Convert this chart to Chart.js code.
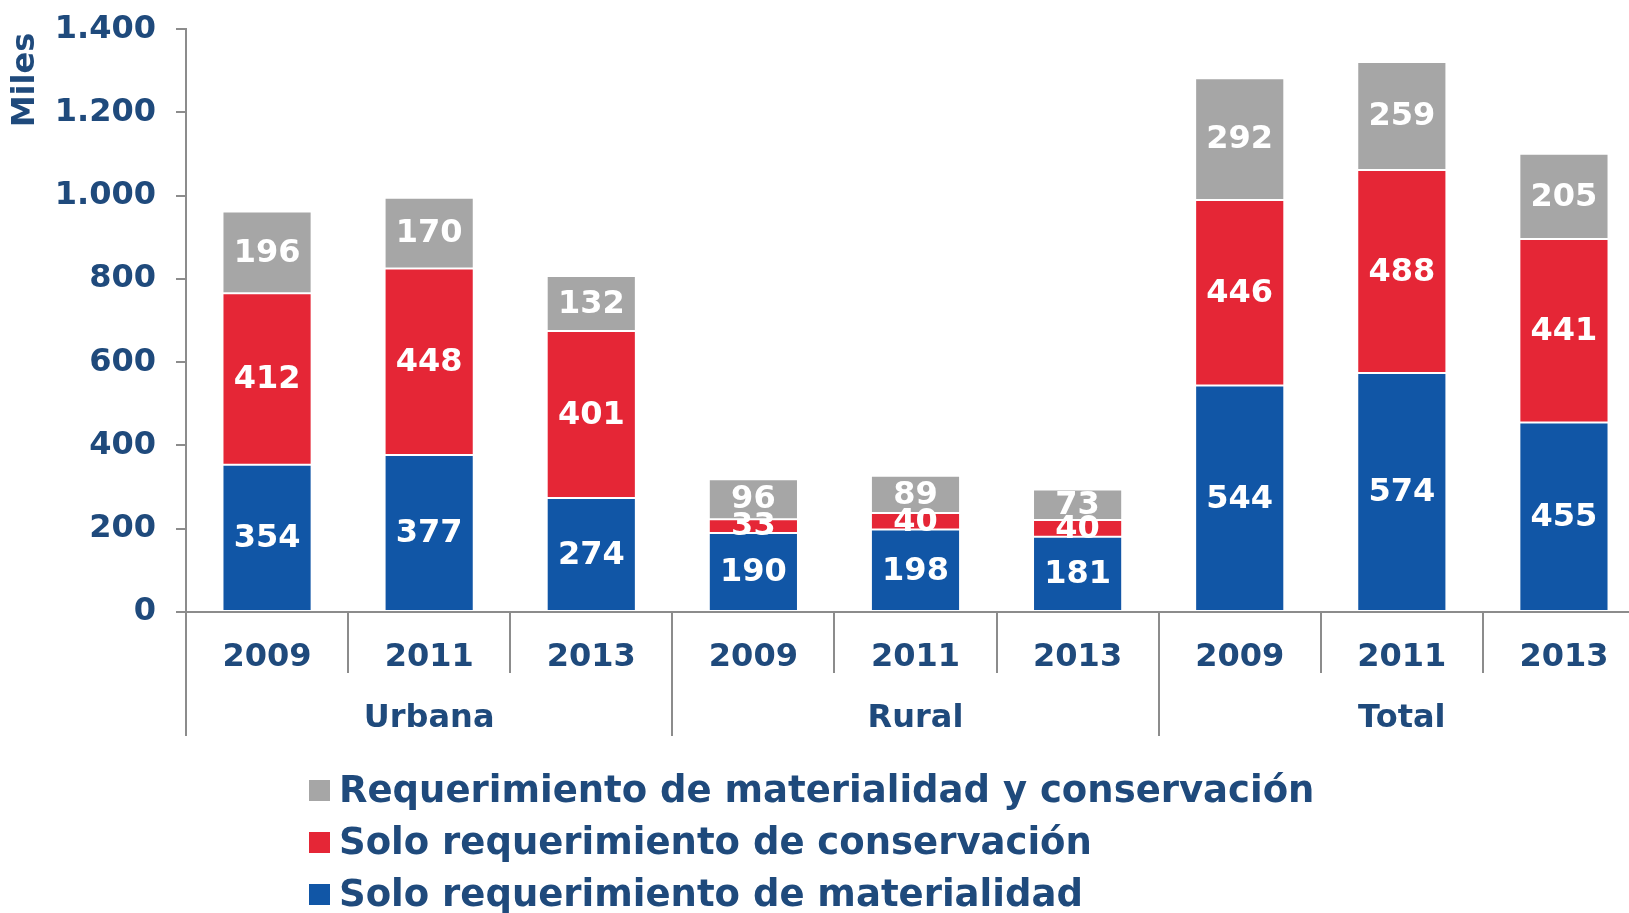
<!DOCTYPE html>
<html>
<head>
<meta charset="utf-8">
<script src="https://cdn.jsdelivr.net/npm/chart.js@4/dist/chart.umd.min.js"></script>
<style>
  html, body { margin: 0; padding: 0; background: #fff; overflow: hidden; }
  #wrap { position: relative; width: 1629px; height: 913px; overflow: hidden; }
  #chart { position: absolute; left: 0; top: -10px; }
  .legend { position: absolute; left: 309px; top: 766px; font-family: "DejaVu Sans", Verdana, sans-serif;
            font-weight: bold; font-size: 37px; color: #1f4a7c; }
  .legend div { height: 52px; line-height: 48px; white-space: nowrap; }
  .legend span { display: inline-block; width: 21px; height: 21px; margin-right: 9px; vertical-align: 1px; }
</style>
</head>
<body>
<div id="wrap">
  <canvas id="chart"></canvas>
  <div class="legend" id="legend"></div>
</div>
<script>
const years = ['2009', '2011', '2013', '2009', '2011', '2013', '2009', '2011', '2013'];
const groups = ['Urbana', 'Rural', 'Total'];
const soloMaterialidad = [354, 377, 274, 190, 198, 181, 544, 574, 455];
const soloConservacion = [412, 448, 401, 33, 40, 40, 446, 488, 441];
const ambos = [196, 170, 132, 96, 89, 73, 292, 259, 205];
const seriesNames = [
  'Solo requerimiento de materialidad',
  'Solo requerimiento de conservación',
  'Requerimiento de materialidad y conservación'
];
const yTicks = [0, 200, 400, 600, 800, 1000, 1200, 1400];

const navy = '#1f4a7c';
const axisGray = '#8c8c8c';
const colors = ['#1156a6', '#e52636', '#a6a6a6'];
const font = '"DejaVu Sans", Verdana, sans-serif';

const fmt = v => String(v).replace(/\B(?=(\d{3})+(?!\d))/g, '.');

// canvas sits 10px above the page top (see CSS)
const W = 1645, H = 923;
const canvas = document.getElementById('chart');
canvas.width = W; canvas.height = H;
canvas.style.width = W + 'px'; canvas.style.height = H + 'px';

const extras = {
  id: 'extras',
  afterDatasetsDraw(chart) {
    const ctx = chart.ctx;
    ctx.save();
    ctx.fillStyle = '#fff';
    ctx.font = 'bold 32px ' + font;
    ctx.textAlign = 'center';
    ctx.textBaseline = 'middle';
    chart.data.datasets.forEach((ds, i) => {
      chart.getDatasetMeta(i).data.forEach((bar, j) => {
        const c = bar.getCenterPoint();
        ctx.fillText(String(ds.data[j]), c.x, c.y + 1);
      });
    });
    ctx.restore();
  },
  afterDraw(chart) {
    const ctx = chart.ctx;
    const x = chart.scales.x;
    const base = chart.chartArea.bottom;
    const step = x.getPixelForValue(1) - x.getPixelForValue(0);
    ctx.save();
    ctx.strokeStyle = axisGray;
    ctx.lineWidth = 2;
    for (let i = 0; i <= years.length; i++) {
      const px = Math.round(x.getPixelForValue(0) - step / 2 + i * step);
      const long = i % 3 === 0;
      ctx.beginPath();
      ctx.moveTo(px, base);
      ctx.lineTo(px, base + (long ? 124 : 61));
      ctx.stroke();
    }
    ctx.fillStyle = navy;
    ctx.font = 'bold 32px ' + font;
    ctx.textAlign = 'center';
    ctx.textBaseline = 'middle';
    groups.forEach((g, k) => {
      ctx.fillText(g, x.getPixelForValue(k * 3 + 1), base + 107);
    });
    ctx.translate(26, 90);
    ctx.rotate(-Math.PI / 2);
    ctx.fillText('Miles', 0, 0);
    ctx.restore();
  }
};

new Chart(canvas, {
  type: 'bar',
  data: {
    labels: years,
    datasets: [soloMaterialidad, soloConservacion, ambos].map((d, i) => ({
      label: seriesNames[i],
      data: d,
      backgroundColor: colors[i],
      borderColor: 'rgba(255,255,255,0.6)',
      borderWidth: 1,
      borderSkipped: false,
      barPercentage: 0.55,
      categoryPercentage: 1
    }))
  },
  options: {
    responsive: false,
    animation: false,
    layout: { padding: { top: 18, right: 0, bottom: 0, left: 0 } },
    plugins: { legend: { display: false }, tooltip: { enabled: false } },
    scales: {
      x: {
        stacked: true,
        grid: { display: false },
        border: { display: true, color: axisGray, width: 2 },
        ticks: { color: navy, font: { family: font, size: 32, weight: 'bold' }, padding: 18, maxRotation: 0 },
        afterFit: s => { s.height = 301; }
      },
      y: {
        stacked: true,
        min: 0, max: 1400,
        afterBuildTicks: s => { s.ticks = yTicks.map(v => ({ value: v })); },
        grid: { drawOnChartArea: false, drawTicks: true, tickLength: 10, color: axisGray, lineWidth: 2 },
        border: { display: true, color: axisGray, width: 2 },
        ticks: { color: navy, font: { family: font, size: 32, weight: 'bold' }, padding: 20, callback: v => fmt(v) },
        afterFit: s => { s.width = 186; }
      }
    }
  },
  plugins: [extras]
});

const legend = document.getElementById('legend');
[2, 1, 0].forEach(i => {
  const row = document.createElement('div');
  const sw = document.createElement('span');
  sw.style.background = colors[i];
  row.appendChild(sw);
  row.appendChild(document.createTextNode(seriesNames[i]));
  legend.appendChild(row);
});
</script>
</body>
</html>
